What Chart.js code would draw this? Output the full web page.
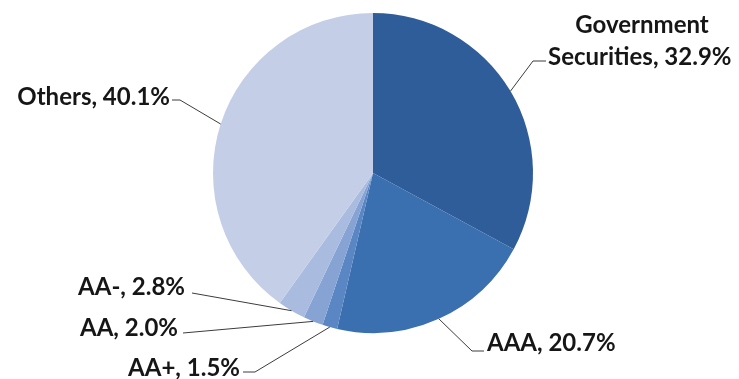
<!DOCTYPE html>
<html>
<head>
<meta charset="utf-8">
<script src="https://cdn.jsdelivr.net/npm/chart.js@4"></script>
<style>
  html, body { margin: 0; padding: 0; background: #ffffff; }
  #wrap { width: 739px; height: 379px; position: relative; }
</style>
</head>
<body>
<div id="wrap"><canvas id="c" width="739" height="379"></canvas></div>
<script>
const categories = ["Government Securities", "AAA", "AA+", "AA", "AA-", "Others"];
const shares = [32.9, 20.7, 1.5, 2.0, 2.8, 40.1];
const labelLines = [
  ["Government", "Securities, 32.9%"],
  ["AAA, 20.7%"],
  ["AA+, 1.5%"],
  ["AA, 2.0%"],
  ["AA-, 2.8%"],
  ["Others, 40.1%"]
];
const sliceColors = ["#2f5d9a", "#3a6fb0", "#5a86c3", "#86a3d3", "#a9bbdf", "#c4cfe7"];

// label placement (annotation layout, not data)
const labelLayout = [
  { x: 548, y: 57, align: "left", lineGap: 32, firstCenterX: 642, elbow: [533, 61], end: [546, 61] },
  { x: 487, y: 343, align: "left", elbow: [472, 351], end: [484, 351] },
  { x: 240, y: 368, align: "right", elbow: [255, 372], end: [243, 372] },
  { x: 178, y: 328, align: "right", elbow: null, end: [183, 333] },
  { x: 185, y: 287, align: "right", elbow: null, end: [192, 293] },
  { x: 170, y: 97, align: "right", elbow: [180, 100], end: [172, 100] }
];

const labelPlugin = {
  id: "pieLabels",
  afterDatasetsDraw(chart) {
    const ctx = chart.ctx;
    const meta = chart.getDatasetMeta(0);
    ctx.save();
    meta.data.forEach((arc, i) => {
      const lay = labelLayout[i];
      const mid = (arc.startAngle + arc.endAngle) / 2;
      const px = arc.x + Math.cos(mid) * arc.outerRadius;
      const py = arc.y + Math.sin(mid) * arc.outerRadius;
      ctx.strokeStyle = "#3c3c3c";
      ctx.lineWidth = 1;
      ctx.beginPath();
      ctx.moveTo(px, py);
      if (lay.elbow) ctx.lineTo(lay.elbow[0], lay.elbow[1]);
      ctx.lineTo(lay.end[0], lay.end[1]);
      ctx.stroke();

      ctx.fillStyle = "#161616";
      ctx.font = "bold 24px Lato, 'Open Sans', sans-serif";
      ctx.textBaseline = "middle";
      const lines = labelLines[i];
      if (lines.length === 2) {
        ctx.textAlign = "center";
        ctx.fillText(lines[0], lay.firstCenterX, lay.y - lay.lineGap);
        ctx.textAlign = "left";
        ctx.fillText(lines[1], lay.x, lay.y);
      } else {
        ctx.textAlign = lay.align;
        ctx.fillText(lines[0], lay.x, lay.y);
      }
    });
    ctx.restore();
  }
};

new Chart(document.getElementById("c"), {
  type: "pie",
  data: {
    labels: categories,
    datasets: [{
      data: shares,
      backgroundColor: sliceColors,
      borderWidth: 0
    }]
  },
  options: {
    responsive: false,
    animation: false,
    layout: { padding: { top: 13, bottom: 46, left: 7, right: 0 } },
    plugins: {
      legend: { display: false },
      tooltip: { enabled: false }
    }
  },
  plugins: [labelPlugin]
});
</script>
</body>
</html>
